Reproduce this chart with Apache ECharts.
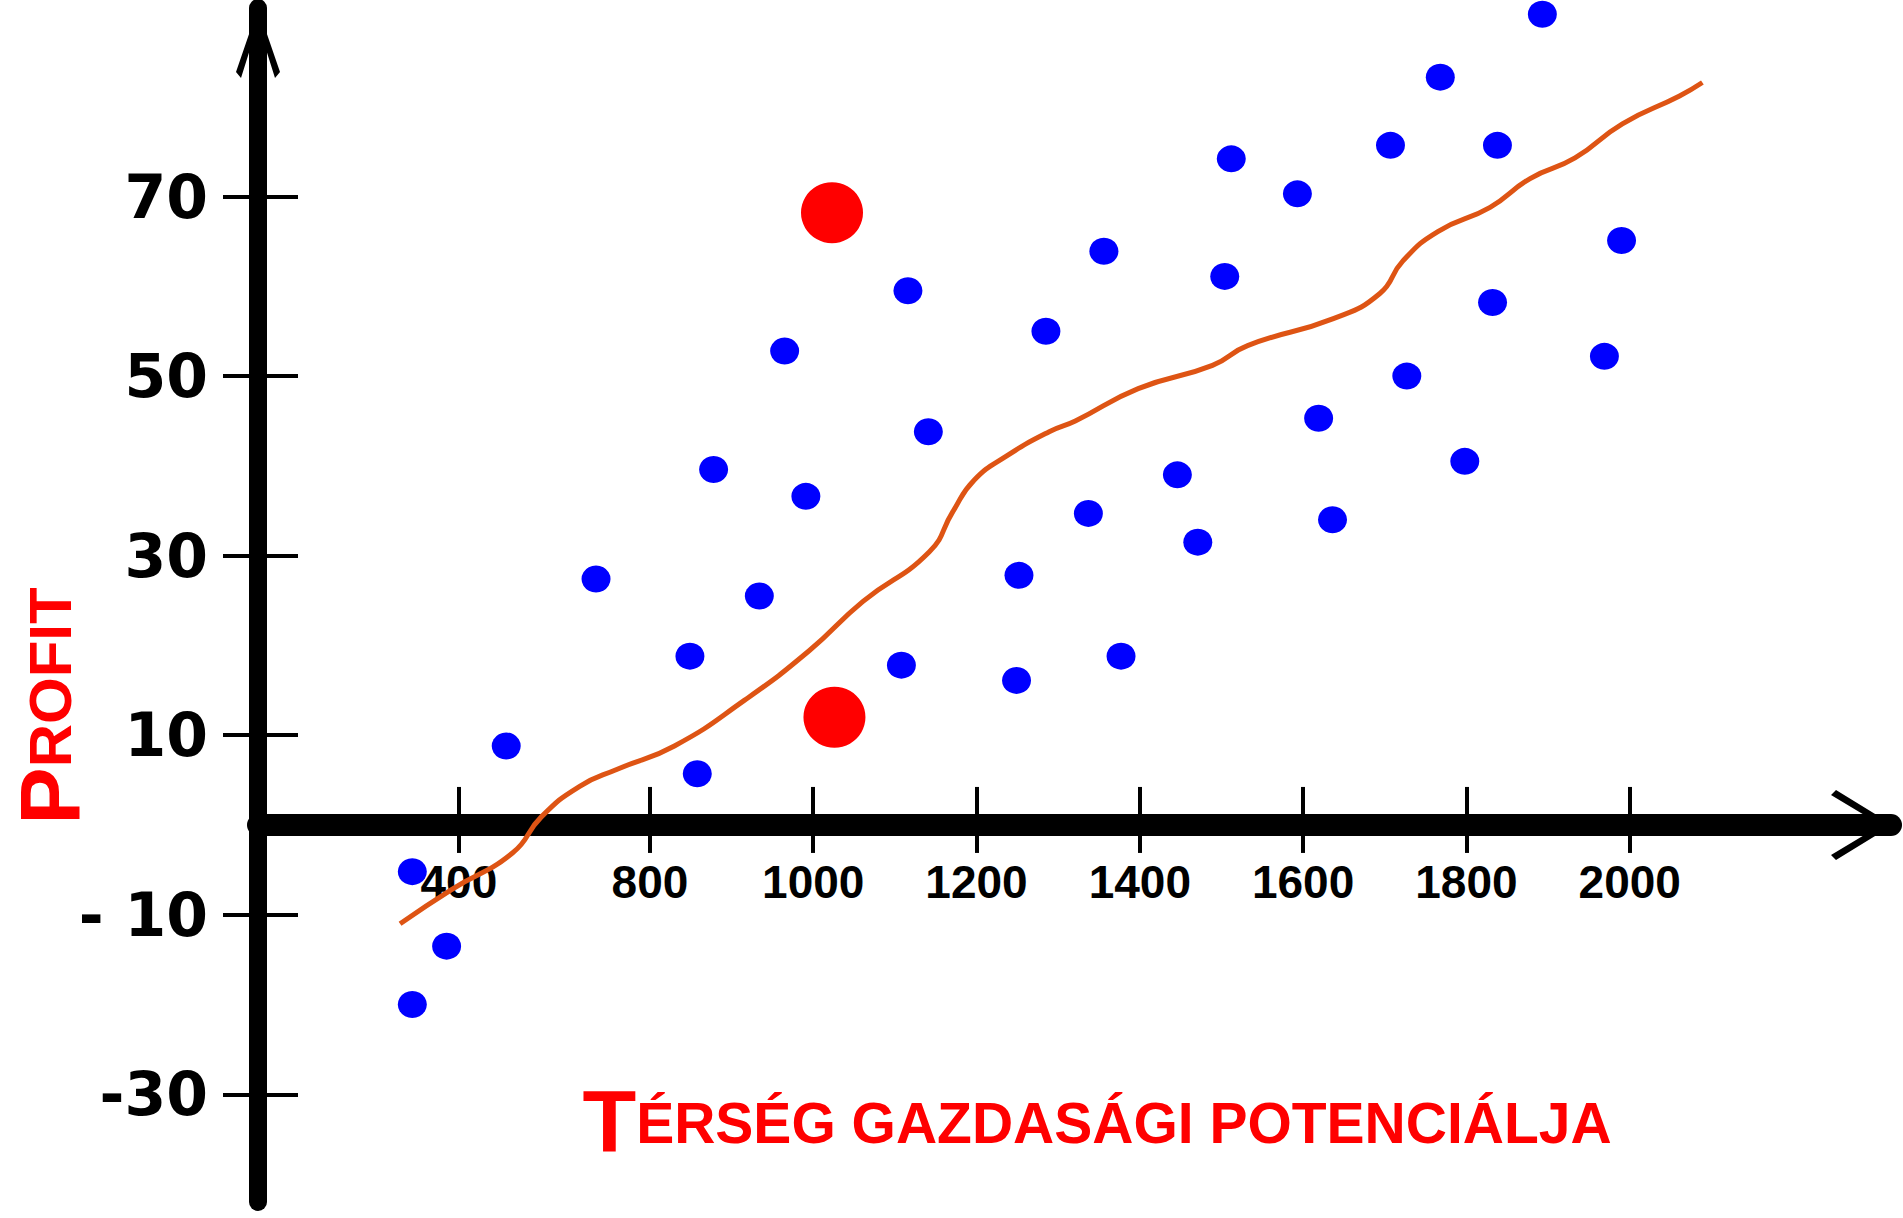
<!DOCTYPE html>
<html>
<head>
<meta charset="utf-8">
<script src="https://cdn.jsdelivr.net/npm/echarts@6/dist/echarts.min.js"></script>
<style>
html,body{margin:0;padding:0;background:#fff;}
#chart{width:1903px;height:1218px;}
</style>
</head>
<body>
<div id="chart"></div>
<script>
// ---- data ----
const xTickValues = [566, 800, 1000, 1200, 1400, 1600, 1800, 2000];   // where each drawn tick sits
const xTickLabels = ['400', '800', '1000', '1200', '1400', '1600', '1800', '2000'];
const yTickValues = [-30, -10, 10, 30, 50, 70];
const yTickLabels = ['-30', '- 10', '10', '30', '50', '70'];

const bluePoints = [
  [509, -5.2], [551, -13.5], [509, -20.0], [624, 8.8], [734, 27.4], [849, 18.8],
  [858, 5.7], [878, 39.6], [934, 25.5], [965, 52.8], [991, 36.6], [1108, 17.8],
  [1116, 59.5], [1141, 43.8], [1249, 16.1], [1252, 27.8], [1285, 55.0], [1337, 34.7],
  [1356, 63.9], [1377, 18.8], [1446, 39.0], [1471, 31.5], [1504, 61.1], [1512, 74.2],
  [1593, 70.3], [1619, 45.3], [1636, 34.0], [1707, 75.7], [1727, 50.0], [1768, 83.3],
  [1798, 40.5], [1832, 58.2], [1838, 75.7], [1893, 90.3], [1969, 52.2], [1990, 65.1]
];
const redPoints = [[1023, 68.2], [1026, 12.0]];
const trendLine = [
  [494, -11.0], [557, -7.2], [632, -3.1], [667, 0.9], [714, 4.3], [760, 6.2],
  [830, 8.8], [916, 13.9], [995, 19.4], [1061, 24.9], [1142, 30.4], [1171, 34.9],
  [1197, 38.4], [1237, 41.1], [1289, 43.8], [1321, 45.0], [1398, 48.6], [1489, 51.2],
  [1532, 53.4], [1637, 56.4], [1694, 59.2], [1722, 62.8], [1765, 66.1], [1829, 68.8],
  [1878, 72.0], [1933, 74.3], [1991, 78.1], [2061, 81.2], [2089, 82.7]
];
const xTitle = 'Térség gazdasági potenciálja';
const yTitle = 'Profit';

// ---- layout / styling ----
const X_MIN = 320, X_MAX = 2320, Y_MIN = -42, Y_MAX = 91;
const GRID = {left: 258, right: 12, top: 8, bottom: 16};
const plotH = 1218 - GRID.top - GRID.bottom;
// the x axis is drawn where profit = 0
const xAxisOffset = -plotH * (0 - Y_MIN) / (Y_MAX - Y_MIN);

const TITLE_FONT = "'Liberation Sans', 'DejaVu Sans', sans-serif";
const arrowY = 'path://M22 0L44 64L39 70L22 16L5 70L0 64Z';
const arrowX = 'path://M35 0L70 57L65 62L35 12L5 62L0 57Z';

function smallCaps(t) {
  return '{a|' + t.charAt(0).toUpperCase() + '}{b|' + t.slice(1).toUpperCase() + '}';
}

const chart = echarts.init(document.getElementById('chart'), null, {renderer: 'svg'});
const option = {
  animation: false,
  backgroundColor: '#ffffff',
  grid: Object.assign({containLabel: false, outerBoundsMode: 'none'}, GRID),
  xAxis: [
    {
      type: 'value', min: X_MIN, max: X_MAX, position: 'bottom', offset: xAxisOffset,
      splitLine: {show: false},
      axisLine: {show: true, onZero: false, symbol: ['none', arrowX], symbolSize: [70, 62],
        symbolOffset: [0, -29], lineStyle: {color: '#000', width: 22}},
      axisTick: {show: true, customValues: xTickValues, inside: false, length: 28,
        lineStyle: {color: '#000', width: 4}},
      axisLabel: {show: true, customValues: xTickValues, margin: 34,
        formatter: v => xTickLabels[xTickValues.indexOf(v)],
        color: '#000', fontSize: 46, fontWeight: 'bold',
        fontFamily: "'Liberation Sans Narrow', 'Liberation Sans', sans-serif"},
      name: smallCaps(xTitle), nameLocation: 'middle', nameGap: 252, nameMoveOverlap: false,
      nameTextStyle: {padding: [0, 0, 0, 45],
        rich: {
          a: {color: '#ff0000', fontSize: 88, fontWeight: 'bold', fontFamily: TITLE_FONT},
          b: {color: '#ff0000', fontSize: 57, fontWeight: 'bold', fontFamily: TITLE_FONT, padding: [0, 0, -4, 0]}
        }}
    },
    {
      type: 'value', min: X_MIN, max: X_MAX, position: 'bottom', offset: xAxisOffset,
      splitLine: {show: false},
      axisLine: {show: true, onZero: false, lineStyle: {color: 'rgba(0,0,0,0)', width: 1}},
      axisTick: {show: true, customValues: xTickValues, inside: true, length: 38,
        lineStyle: {color: '#000', width: 4}},
      axisLabel: {show: false}
    }
  ],
  yAxis: [
    {
      type: 'value', min: Y_MIN, max: Y_MAX, position: 'left',
      splitLine: {show: false},
      axisLine: {show: true, onZero: false, symbol: ['none', arrowY], symbolSize: [44, 70],
        symbolOffset: [0, -35], lineStyle: {color: '#000', width: 18}},
      axisTick: {show: true, customValues: yTickValues, inside: false, length: 35,
        lineStyle: {color: '#000', width: 4}},
      axisLabel: {show: true, customValues: yTickValues, margin: 50,
        formatter: v => yTickLabels[yTickValues.indexOf(v)],
        color: '#000', fontSize: 60, fontWeight: 'bold', fontFamily: "'DejaVu Sans', sans-serif"},
      name: smallCaps(yTitle), nameLocation: 'middle', nameRotate: 90, nameGap: 165,
      nameMoveOverlap: false,
      nameTextStyle: {padding: [0, 202, 0, 0],
        rich: {
          a: {color: '#ff0000', fontSize: 86, fontWeight: 'bold', fontFamily: TITLE_FONT},
          b: {color: '#ff0000', fontSize: 60, fontWeight: 'bold', fontFamily: TITLE_FONT}
        }}
    },
    {
      type: 'value', min: Y_MIN, max: Y_MAX, position: 'left',
      splitLine: {show: false},
      axisLine: {show: true, onZero: false, lineStyle: {color: 'rgba(0,0,0,0)', width: 1}},
      axisTick: {show: true, customValues: yTickValues, inside: true, length: 40,
        lineStyle: {color: '#000', width: 4}},
      axisLabel: {show: false}
    }
  ],
  series: [
    {
      type: 'line', name: 'trend', data: trendLine, xAxisIndex: 0, yAxisIndex: 0,
      smooth: 0.5, showSymbol: false, symbol: 'none', clip: false,
      lineStyle: {color: '#de5414', width: 5},
      emphasis: {disabled: true}, z: 3
    },
    {
      type: 'scatter', name: 'regions', data: bluePoints, xAxisIndex: 0, yAxisIndex: 0,
      symbol: 'circle', symbolSize: [29, 27], clip: false,
      itemStyle: {color: '#0000ff', opacity: 1},
      emphasis: {disabled: true}, z: 4
    },
    {
      type: 'scatter', name: 'highlighted', data: redPoints, xAxisIndex: 0, yAxisIndex: 0,
      symbol: 'circle', symbolSize: [62, 61], clip: false,
      itemStyle: {color: '#ff0000', opacity: 1},
      emphasis: {disabled: true}, z: 5
    }
  ]
};
chart.setOption(option);
</script>
</body>
</html>
